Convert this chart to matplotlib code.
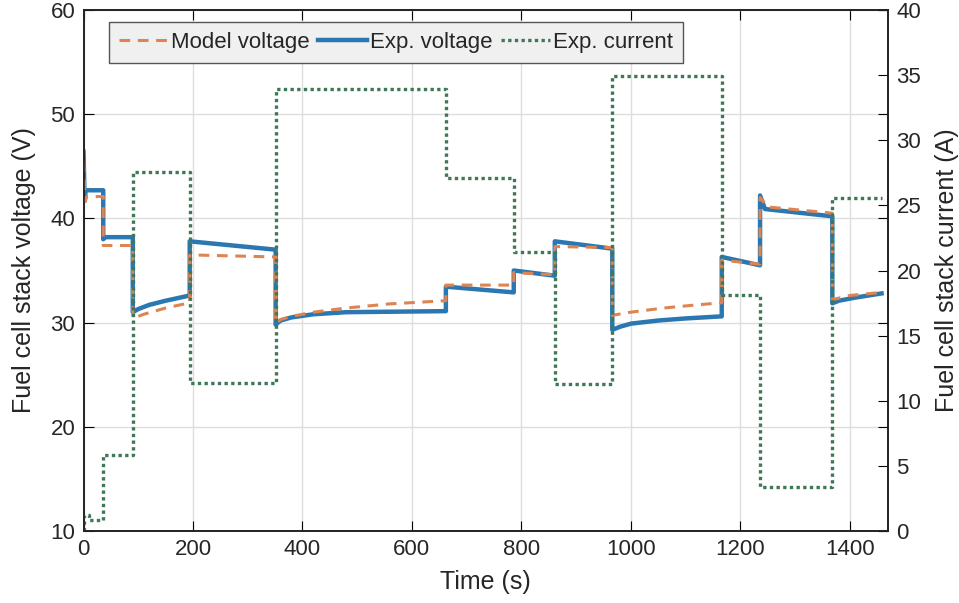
import matplotlib.pyplot as plt

plt.rcParams['font.family'] = ['Liberation Sans', 'DejaVu Sans']

# experimental current, step levels (A) starting at each switch time (s)
cur_t = [0, 1, 10, 36, 90, 194, 351, 662, 786, 861, 966, 1166, 1236, 1368, 1458]
cur_a = [0.0, 1.2, 0.85, 5.8, 27.6, 11.4, 33.9, 27.1, 21.4, 11.3, 34.9, 18.1, 3.4, 25.6, 25.6]

exp_t = [0, 2, 4, 36, 36, 40, 90, 90, 100, 120, 150, 194, 194, 351,
         351, 360, 380, 420, 480, 662,
         662, 786, 786, 861, 861, 966,
         966, 980, 1000, 1050, 1100, 1166,
         1166, 1236, 1236, 1245, 1368,
         1368, 1380, 1410, 1458]
exp_v = [46.4, 41.8, 42.7, 42.7, 38.0, 38.2, 38.2, 31.0, 31.3, 31.7, 32.1, 32.6, 37.8, 37.0,
         29.8, 30.2, 30.5, 30.8, 31.0, 31.1,
         33.45, 32.9, 35.0, 34.5, 37.8, 37.1,
         29.3, 29.6, 29.9, 30.2, 30.4, 30.6,
         36.3, 35.5, 42.2, 40.9, 40.2,
         31.85, 32.1, 32.4, 32.8]

# model voltage (V)
mod_t = [0, 3, 6, 36, 36, 90, 90, 110, 150, 194, 194, 351,
         351, 360, 380, 420, 480, 560, 662,
         662, 786, 786, 861, 861, 966,
         966, 1000, 1060, 1120, 1166,
         1166, 1236, 1236, 1250, 1368,
         1368, 1400, 1458]
mod_v = [45.5, 41.6, 42.1, 42.1, 37.4, 37.4, 30.4, 30.8, 31.4, 31.9, 36.5, 36.3,
         29.9, 30.3, 30.6, 31.0, 31.4, 31.8, 32.1,
         33.6, 33.6, 34.8, 34.6, 37.3, 37.2,
         30.7, 31.0, 31.4, 31.7, 31.9,
         36.0, 35.6, 42.0, 41.1, 40.5,
         32.2, 32.6, 32.9]

fig = plt.figure(figsize=(9.59, 6.03), dpi=100)
ax = fig.add_axes([0.0871, 0.1194, 0.8390, 0.8640])
ax2 = ax.twinx()

orange = '#dd8452'
blue = '#2a77b1'
green = '#3f7856'

l1, = ax.plot(mod_t, mod_v, color=orange, lw=2.2, ls=(0, (3.5, 2.5)), label='Model voltage', zorder=3)
l2, = ax.plot(exp_t, exp_v, color=blue, lw=3.2, label='Exp. voltage', zorder=2)
l3, = ax2.plot(cur_t, cur_a, color=green, lw=2.4, ls=(0, (1, 1)), drawstyle='steps-post',
               label='Exp. current')

ax.set_xlim(0, 1470)
ax.set_ylim(10, 60)
ax2.set_ylim(0, 40)
ax.set_xticks(range(0, 1401, 200))
ax.set_yticks(range(10, 61, 10))
ax2.set_yticks(range(0, 41, 5))

ax.grid(True, color='#dedede', lw=1)
ax.tick_params(direction='in', length=7, labelsize=16, top=True, right=True, pad=6,
               labelcolor='#262626')
ax2.tick_params(direction='in', length=7, labelsize=16, pad=6, labelcolor='#262626')
for a in (ax, ax2):
    for s in a.spines.values():
        s.set_color('#222222')
        s.set_linewidth(1.2)

ax.set_xlabel('Time (s)', fontsize=18, labelpad=7, color='#262626')
ax.set_ylabel('Fuel cell stack voltage (V)', fontsize=18, labelpad=10, color='#262626')
ax2.set_ylabel('Fuel cell stack current (A)', fontsize=18, labelpad=10, color='#262626')

leg = ax2.legend(handles=[l1, l2, l3], loc='upper left', ncol=3, fontsize=16,
                 bbox_to_anchor=(0.032, 0.977), borderaxespad=0, fancybox=False,
                 framealpha=1, facecolor='#f0f0f0', edgecolor='#555555',
                 handlelength=2.2, handletextpad=0.12, columnspacing=0.4,
                 borderpad=0.45)
leg.get_frame().set_linewidth(1.0)
for t in leg.get_texts():
    t.set_color('#262626')

fig.savefig('out.png', dpi=100)
